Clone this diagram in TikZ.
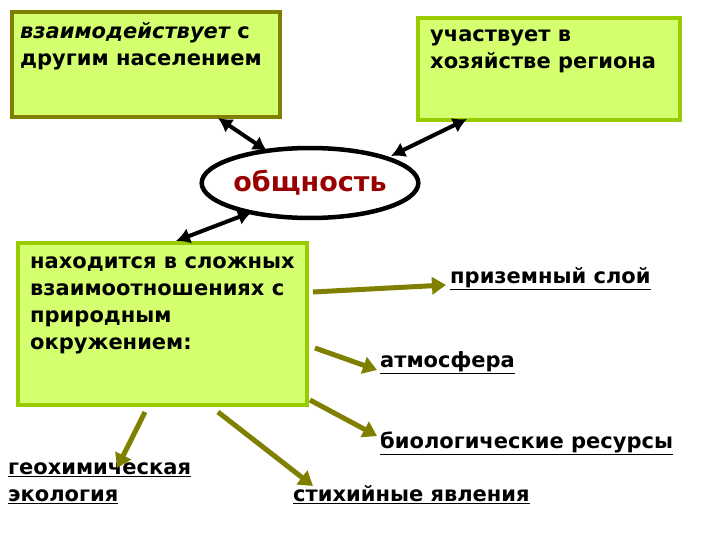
\documentclass[tikz,border=0pt]{standalone}
\usepackage{fontspec}
\setmainfont{DejaVu Sans}
\usetikzlibrary{arrows.meta,shapes.geometric}
\definecolor{fillg}{HTML}{D4FF6E}
\definecolor{bordg}{HTML}{99CC00}
\definecolor{olive2}{HTML}{808000}
\definecolor{darkred}{HTML}{990000}
\begin{document}
\begin{tikzpicture}[x=1pt,y=-1pt,
  gbox/.style={draw=bordg,line width=3.5pt,fill=fillg},
  txt/.style={anchor=north west,align=left,font=\bfseries\fontsize{21}{27}\selectfont,inner sep=0pt},
  lbl/.style={anchor=west,font=\bfseries\fontsize{21}{27}\selectfont,inner sep=0pt},
  blk/.style={black,line width=4pt,{Latex[length=14pt,width=16pt]}-{Latex[length=14pt,width=16pt]}},
  oar/.style={olive2,line width=5pt,-{Triangle[length=14pt,width=17pt]}}]
\useasboundingbox (0,0) rectangle (720,540);
\fill[white] (0,0) rectangle (720,540);
\draw[gbox,draw=olive2] (12,12) rectangle (280,117);
\node[txt] (t1) at (20,22) {\itshape взаимодействует\upshape{} с\\другим населением};
\draw[gbox] (418,18) rectangle (680,120);
\node[txt] (t2) at (430,30) {участвует в\\хозяйстве региона};
\node[draw=black,line width=4.5pt,fill=white,ellipse,minimum width=208pt,minimum height=70pt,inner sep=0pt,font=\bfseries\fontsize{27}{30}\selectfont,text=darkred] (e) at (310,183) {общность};
\draw[gbox] (18,243) rectangle (307,405);
\node[txt] (t3) at (30,257) {находится в сложных\\взаимоотношениях с\\природным\\окружением:};
\coordinate (a1) at (218,118); \coordinate (a2) at (267,151);
\coordinate (b1) at (391,156); \coordinate (b2) at (467,119);
\coordinate (c1) at (252,212); \coordinate (c2) at (176,241);
\draw[blk] (a1) -- (a2);
\draw[blk] (b1) -- (b2);
\draw[blk] (c1) -- (c2);
\node[lbl] (l1) at (450,279) {\underline{приземный слой}};
\node[lbl] (l2) at (380,363) {\underline{атмосфера}};
\node[lbl] (l3) at (380,443) {\underline{биологические ресурсы}};
\node[txt] (l4) at (8,463) {\underline{геохимическая}\\\underline{экология}};
\node[lbl] (l5) at (293,495) {\underline{стихийные явления}};
\coordinate (s1) at (313,292); \coordinate (s2) at (315,348); \coordinate (s3) at (310,400);
\coordinate (s4) at (218,412); \coordinate (s5) at (145,412);
\draw[oar] (s1) -- (446,285);
\draw[oar] (s2) -- (377,370);
\draw[oar] (s3) -- (377,436);
\draw[oar] (s4) -- (313,486);
\draw[oar] (s5) -- (117,468);
\end{tikzpicture}
\end{document}
